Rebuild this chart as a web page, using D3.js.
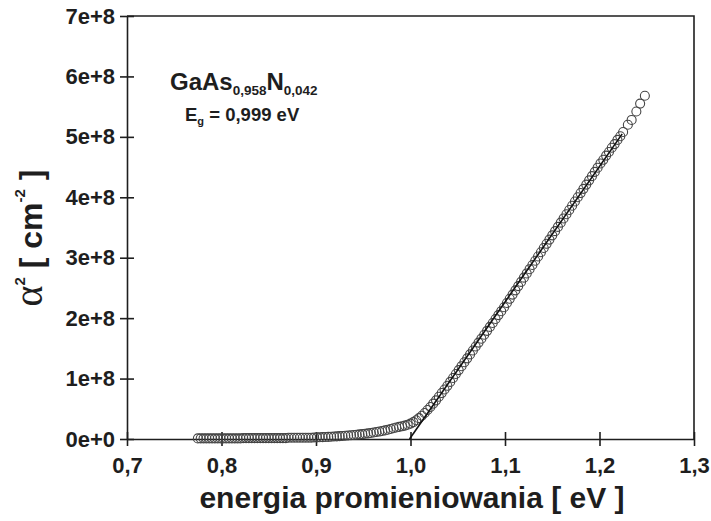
<!DOCTYPE html>
<html>
<head>
<meta charset="utf-8">
<script src="https://cdn.jsdelivr.net/npm/d3@7/dist/d3.min.js"></script>
<style>
  html, body { margin: 0; padding: 0; background: #fff; }
  svg { display: block; }
  text { font-family: "Liberation Sans", Arial, sans-serif; font-weight: bold; fill: #1e1e1e; }
</style>
</head>
<body>
<svg id="chart" width="711" height="521"></svg>
<script>
// Photon energy [eV] of each measured point
const energy = [
  0.775, 0.778, 0.781, 0.784, 0.787, 0.790, 0.793, 0.796, 0.799, 0.802,
  0.805, 0.808, 0.811, 0.814, 0.817, 0.820, 0.823, 0.826, 0.829, 0.832,
  0.835, 0.838, 0.841, 0.844, 0.847, 0.850, 0.853, 0.856, 0.859, 0.862,
  0.865, 0.868, 0.871, 0.874, 0.877, 0.880, 0.883, 0.886, 0.889, 0.892,
  0.895, 0.898, 0.901, 0.904, 0.907, 0.910, 0.913, 0.916, 0.919, 0.922,
  0.925, 0.928, 0.931, 0.934, 0.937, 0.940, 0.943, 0.946, 0.949, 0.952,
  0.955, 0.958, 0.961, 0.964, 0.967, 0.970, 0.973, 0.976, 0.979, 0.982,
  0.985, 0.988, 0.991, 0.994, 0.997, 1.000, 1.003, 1.006, 1.009, 1.012,
  1.015, 1.018, 1.021, 1.024, 1.027, 1.030, 1.033, 1.036, 1.039, 1.042,
  1.045, 1.048, 1.051, 1.054, 1.057, 1.060, 1.063, 1.066, 1.069, 1.072,
  1.075, 1.078, 1.081, 1.084, 1.087, 1.090, 1.093, 1.096, 1.099, 1.102,
  1.105, 1.108, 1.111, 1.114, 1.117, 1.120, 1.123, 1.126, 1.129, 1.132,
  1.135, 1.138, 1.141, 1.144, 1.147, 1.150, 1.153, 1.156, 1.159, 1.162,
  1.165, 1.168, 1.171, 1.174, 1.177, 1.180, 1.183, 1.186, 1.189, 1.192,
  1.195, 1.198, 1.201, 1.204, 1.207, 1.210, 1.213, 1.216, 1.219, 1.222,
  1.225, 1.230, 1.234, 1.239, 1.243, 1.248
];

// Squared absorption coefficient alpha^2, in units of 1e8 cm^-2
const alpha2 = [
  0.010, 0.010, 0.010, 0.010, 0.010, 0.010, 0.010, 0.010, 0.010, 0.010,
  0.010, 0.010, 0.010, 0.010, 0.010, 0.010, 0.015, 0.015, 0.015, 0.015,
  0.015, 0.015, 0.015, 0.015, 0.015, 0.015, 0.015, 0.015, 0.015, 0.015,
  0.015, 0.015, 0.020, 0.020, 0.020, 0.020, 0.020, 0.020, 0.020, 0.020,
  0.020, 0.025, 0.027, 0.029, 0.031, 0.033, 0.035, 0.038, 0.041, 0.044,
  0.047, 0.050, 0.054, 0.058, 0.062, 0.066, 0.071, 0.076, 0.081, 0.087,
  0.093, 0.100, 0.107, 0.115, 0.123, 0.132, 0.142, 0.153, 0.165, 0.178,
  0.190, 0.200, 0.210, 0.222, 0.237, 0.255, 0.280, 0.310, 0.345, 0.385,
  0.430, 0.480, 0.530, 0.585, 0.640, 0.700, 0.760, 0.820, 0.880, 0.945,
  1.010, 1.075, 1.140, 1.205, 1.270, 1.335, 1.400, 1.465, 1.530, 1.595,
  1.660, 1.725, 1.790, 1.855, 1.920, 1.985, 2.050, 2.115, 2.180, 2.250,
  2.320, 2.390, 2.460, 2.530, 2.600, 2.670, 2.740, 2.810, 2.880, 2.950,
  3.020, 3.090, 3.160, 3.230, 3.300, 3.370, 3.440, 3.510, 3.580, 3.650,
  3.720, 3.790, 3.860, 3.930, 4.000, 4.070, 4.140, 4.210, 4.280, 4.350,
  4.420, 4.490, 4.560, 4.620, 4.690, 4.750, 4.820, 4.880, 4.950, 5.010,
  5.080, 5.200, 5.280, 5.420, 5.550, 5.680
];

// Linear fit of the absorption edge; its zero crossing gives Eg
const fitEnergy = [0.999, 1.224];
const fitAlpha2 = [0.000, 5.050];

// Axis ticks
const xTicks = [0.7, 0.8, 0.9, 1.0, 1.1, 1.2, 1.3];
const xTickLabels = ["0,7", "0,8", "0,9", "1,0", "1,1", "1,2", "1,3"];
const yTicks = [0, 1, 2, 3, 4, 5, 6, 7];
const yTickLabels = ["0e+0", "1e+8", "2e+8", "3e+8", "4e+8", "5e+8", "6e+8", "7e+8"];

const svg = d3.select("#chart");
const margin = { left: 127, right: 17, top: 16, bottom: 82 };
const W = 711, H = 521;

const x = d3.scaleLinear().domain([0.7, 1.3]).range([margin.left, W - margin.right]);
const y = d3.scaleLinear().domain([0, 7]).range([H - margin.bottom, margin.top]);

const ink = "#1e1e1e";

// Frame (top and right edges)
svg.append("path")
  .attr("d", `M${x(0.7)},${y(7)}H${x(1.3)}V${y(0)}`)
  .attr("fill", "none").attr("stroke", ink).attr("stroke-width", 1.6);

// X axis, ticks crossing the axis line
const xAxis = d3.axisBottom(x)
  .tickValues(xTicks)
  .tickFormat((d, i) => xTickLabels[i])
  .tickSizeInner(7).tickSizeOuter(0).tickPadding(11);
const gx = svg.append("g").attr("transform", `translate(0,${y(0)})`).call(xAxis);
gx.select(".domain").attr("stroke", ink).attr("stroke-width", 1.6);
gx.selectAll(".tick line").attr("stroke", ink).attr("stroke-width", 1.6).attr("y1", -7);
gx.selectAll(".tick text").style("font-size", "22px").attr("fill", ink);

// Y axis
const yAxis = d3.axisLeft(y)
  .tickValues(yTicks)
  .tickFormat((d, i) => yTickLabels[i])
  .tickSizeInner(7).tickSizeOuter(0).tickPadding(6);
const gy = svg.append("g").attr("transform", `translate(${x(0.7)},0)`).call(yAxis);
gy.select(".domain").attr("stroke", ink).attr("stroke-width", 1.6);
gy.selectAll(".tick line").attr("stroke", ink).attr("stroke-width", 1.6).attr("x2", 7).attr("x1", -7);
gy.selectAll(".tick text").style("font-size", "22px").attr("fill", ink).attr("x", -12);

// Measured points
const pts = energy.map((e, i) => ({ e, a: alpha2[i] }));
svg.append("g")
  .selectAll("circle")
  .data(pts)
  .join("circle")
  .attr("cx", d => x(d.e))
  .attr("cy", d => y(d.a))
  .attr("r", 4.5)
  .attr("fill", "none")
  .attr("stroke", "#444")
  .attr("stroke-width", 1.1);

// Fit line
svg.append("path")
  .datum(fitEnergy.map((e, i) => [e, fitAlpha2[i]]))
  .attr("d", d3.line().x(d => x(d[0])).y(d => y(d[1])))
  .attr("fill", "none").attr("stroke", "#111").attr("stroke-width", 1.6);

// Compound name and band gap
const t1 = svg.append("text").attr("x", 170).attr("y", 90).style("font-size", "24px");
t1.append("tspan").text("GaAs");
t1.append("tspan").text("0,958").style("font-size", "13.5px").attr("dy", 5);
t1.append("tspan").text("N").attr("dy", -5);
t1.append("tspan").text("0,042").style("font-size", "13.5px").attr("dy", 5);

const t2 = svg.append("text").attr("x", 185).attr("y", 121).style("font-size", "18.5px");
t2.append("tspan").text("E");
t2.append("tspan").text("g").style("font-size", "11px").attr("dy", 4);
t2.append("tspan").text(" = 0,999 eV").attr("dy", -4);

// Axis titles
svg.append("text")
  .attr("x", 412).attr("y", 508)
  .attr("text-anchor", "middle")
  .style("font-size", "30px")
  .text("energia promieniowania [ eV ]");

const yl = svg.append("text")
  .attr("transform", "translate(42,238) rotate(-90)")
  .attr("text-anchor", "middle")
  .style("font-size", "32px");
yl.append("tspan").text("α")
  .style("font-family", "'Liberation Serif', 'Times New Roman', serif")
  .style("font-weight", "normal").style("font-size", "40px");
yl.append("tspan").text("2").style("font-size", "15px").attr("dy", -17);
yl.append("tspan").text(" [ cm").attr("dy", 17);
yl.append("tspan").text("-2").style("font-size", "15px").attr("dy", -17);
yl.append("tspan").text(" ]").attr("dy", 17);
</script>
</body>
</html>
